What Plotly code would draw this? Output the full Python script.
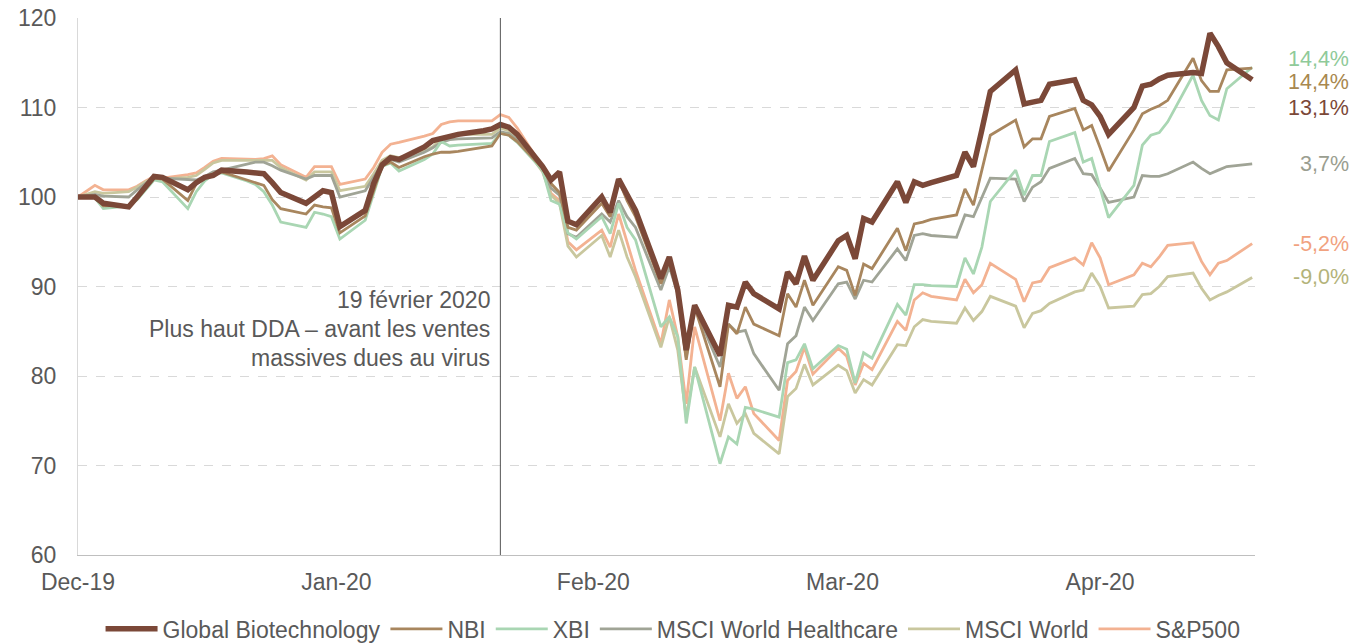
import pandas as pd
import plotly.graph_objects as go

# Trading days from 31 Dec 2019 to 18 May 2020 (1 Jan is a holiday)
dates = [d for d in pd.bdate_range("2019-12-31", "2020-05-18") if d != pd.Timestamp("2020-01-01")]

global_biotech = [
    100.0, 100.0, 99.3,
    98.9, 100.0, 101.2, 102.3, 102.2,
    100.8, 101.6, 102.2, 102.4, 103.0,
    102.8, 102.7, 102.6, 101.6, 100.5,
    99.3, 100.1, 100.7, 100.5, 96.7,
    98.5, 101.5, 103.6, 104.4, 104.2,
    105.6, 106.3, 106.5, 106.7, 107.0,
    107.4, 107.6, 108.1, 107.8, 107.0,
    103.4, 101.9, 102.8, 97.3, 96.9,
    100.0, 98.3, 102.0, 100.4, 98.5,
    90.9, 93.3, 89.6, 82.9, 87.9,
    82.3, 87.9, 87.7, 90.5, 89.2,
    87.5, 91.6, 90.3, 93.4, 90.7,
    95.1, 95.7, 93.1, 97.6, 97.2,
    101.7, 99.4, 101.7, 101.3, 101.6,
    102.4, 105.0, 103.4, 107.5, 111.8,
    114.2, 110.4, 110.6, 110.8, 112.6,
    113.1, 110.8, 110.3, 109.0, 107.0,
    110.0, 112.4, 112.6, 113.2, 113.6,
    113.9, 113.8, 118.3, 116.8, 115.0,
    113.1,
]
nbi = [
    100.0, 100.0, 99.0,
    99.1, 99.8, 100.9, 102.1, 102.0,
    99.6, 101.5, 102.2, 102.6, 102.8,
    101.9, 101.6, 101.3, 99.7, 98.7,
    98.1, 99.1, 98.9, 98.8, 96.0,
    97.9, 100.7, 103.5, 103.9, 103.3,
    104.5, 104.8, 105.0, 105.0, 105.1,
    105.5, 105.7, 107.1, 106.9, 106.2,
    103.2, 101.5, 100.5, 96.6, 96.3,
    99.3, 97.8, 101.9, 99.6, 97.8,
    90.3, 92.9, 89.2, 81.8, 87.7,
    78.8, 85.8, 84.7, 87.7, 85.8,
    84.5, 89.2, 87.7, 90.7, 87.9,
    92.2, 91.8, 89.0, 92.5, 92.0,
    96.5, 94.0, 97.0, 97.2, 97.5,
    98.0, 100.9, 99.1, 103.0, 106.9,
    108.6, 105.6, 106.5, 106.5, 109.0,
    109.9, 107.5, 108.0, 105.5, 102.9,
    107.5, 109.3, 109.8, 110.2, 110.8,
    115.5, 113.0, 111.8, 111.8, 114.2,
    114.4,
]
xbi = [
    100.0, 99.9, 98.7,
    99.0, 99.7, 100.8, 101.9, 101.7,
    98.7, 100.6, 101.8, 102.5, 102.7,
    101.8, 101.4, 100.6, 99.1, 97.2,
    96.6, 98.3, 98.1, 97.8, 95.3,
    97.4, 100.5, 103.4, 103.8, 102.9,
    104.2, 104.8, 106.2, 105.7, 105.8,
    105.9, 106.0, 107.1, 106.9, 106.1,
    103.0, 99.6, 99.2, 96.0, 95.3,
    97.8, 95.9, 99.3, 96.6, 95.2,
    85.5, 86.6, 84.4, 74.7, 81.0,
    70.2, 73.2, 72.4, 76.5, 76.3,
    75.4, 81.5, 81.8, 83.6, 80.8,
    83.4, 83.0, 79.2, 82.6, 82.0,
    88.0, 86.8, 90.2, 90.2, 90.1,
    90.0, 93.2, 91.4, 94.4, 99.5,
    103.0, 100.2, 102.4, 102.4, 106.2,
    107.2, 103.9, 104.3, 101.0, 97.7,
    101.3, 105.8, 106.9, 107.2, 108.4,
    113.6, 110.8, 109.1, 108.6, 112.1,
    114.5,
]
msci_world_healthcare = [
    100.0, 100.3, 100.1,
    100.0, 100.8, 101.5, 102.2, 102.1,
    101.9, 101.9, 102.3, 102.8, 103.0,
    103.7, 103.9, 103.9, 103.5, 103.0,
    102.0, 102.4, 102.4, 102.4, 100.0,
    100.7, 102.2, 103.7, 104.2, 103.9,
    105.0, 105.5, 106.1, 106.4, 106.5,
    106.6, 106.6, 107.3, 107.1, 106.4,
    103.0, 101.0, 100.2, 95.9, 95.5,
    98.1, 97.2, 99.6, 97.8, 96.6,
    89.6, 92.2, 89.2, 82.1, 87.7,
    81.0, 85.8, 84.9, 85.1, 82.5,
    78.4, 83.6, 84.5, 87.7, 86.2,
    90.3, 90.5, 88.6, 90.7, 90.5,
    94.2, 92.9, 95.7, 95.9, 95.7,
    95.5, 98.0, 97.8, 100.0, 102.1,
    102.0, 99.5, 101.1, 101.7, 103.2,
    104.3, 102.6, 102.5, 101.0, 99.4,
    100.0, 102.4, 102.3, 102.3, 102.6,
    103.9, 103.2, 102.6, 103.0, 103.4,
    103.7,
]
msci_world = [
    100.0, 100.6, 100.4,
    100.6, 101.1, 101.7, 102.1, 102.0,
    102.2, 102.4, 103.1, 103.8, 104.1,
    104.1, 104.1, 104.1, 104.1, 103.3,
    101.9, 102.8, 102.8, 102.8, 100.7,
    101.2, 102.6, 104.1, 104.6, 104.4,
    105.2, 105.6, 106.6, 106.8, 107.0,
    107.0, 107.0, 107.7, 107.4, 106.7,
    102.8, 100.2, 99.3, 94.5, 93.3,
    95.7, 93.3, 96.3, 93.3, 91.1,
    83.2, 86.6, 82.9, 75.4, 81.0,
    73.2, 76.9, 74.7, 75.8, 73.6,
    71.3, 77.7, 78.6, 81.3, 79.0,
    81.2, 80.6, 78.1, 79.6, 79.0,
    83.5, 83.4, 85.5, 86.3, 86.1,
    85.9, 87.6, 86.2, 87.2, 88.9,
    87.8, 85.4, 87.0, 87.3, 88.1,
    89.4, 89.6, 91.5, 90.0, 87.6,
    87.8, 89.1, 89.2, 90.0, 91.1,
    91.5, 89.8, 88.5, 89.0, 89.4,
    91.0,
]
sp500 = [
    100.0, 101.3, 100.8,
    100.8, 101.2, 101.8, 102.3, 102.1,
    102.5, 102.7, 103.3, 104.0, 104.3,
    104.2, 104.2, 104.3, 104.6, 103.6,
    102.2, 103.4, 103.4, 103.4, 101.4,
    102.0, 103.3, 105.0, 105.9, 106.1,
    106.8, 107.1, 108.1, 108.4, 108.5,
    108.5, 108.5, 109.2, 108.9, 107.7,
    103.3, 100.4, 99.6, 95.0, 94.1,
    96.3, 94.4, 98.1, 94.8, 91.8,
    83.6, 88.5, 84.4, 76.9, 85.5,
    75.0, 80.3, 77.5, 78.8, 75.8,
    72.8, 79.5, 80.5, 83.2, 80.2,
    83.1, 82.2, 79.0, 81.4, 80.7,
    86.1, 85.1, 88.5, 89.3, 88.9,
    88.5, 90.8, 89.3, 90.2, 92.6,
    90.8, 88.3, 90.4, 90.6, 92.1,
    93.2, 92.4, 94.9, 93.2, 90.2,
    91.3, 92.6, 92.2, 93.3, 94.6,
    94.9, 92.8, 91.3, 92.6, 92.9,
    94.8,
]

series_names = ["Global Biotechnology", "NBI", "XBI", "MSCI World Healthcare", "MSCI World", "S&P500"]
series_values = [global_biotech, nbi, xbi, msci_world_healthcare, msci_world, sp500]
series_colors = ["#7b4838", "#a8865e", "#a9d6b3", "#a0a496", "#c9c79e", "#f3b292"]
series_widths = [5.5, 2.8, 2.8, 2.8, 2.8, 2.8]

end_labels = ["14,4%", "14,4%", "13,1%", "3,7%", "-5,2%", "-9,0%"]
end_label_colors = ["#8fca99", "#a8884f", "#7b4838", "#9a9e90", "#f1a27f", "#b3b37a"]
end_label_y = [115.45, 112.8, 110.0, 103.65, 94.8, 91.05]

x_tick_vals = ["2019-12-31", "2020-01-30 14:00", "2020-03-01", "2020-03-30 12:00", "2020-04-30"]
x_tick_text = ["Dec-19", "Jan-20", "Feb-20", "Mar-20", "Apr-20"]

event_date = "2020-02-19"
event_text = ["19 février 2020", "Plus haut DDA – avant les ventes", "massives dues au virus"]
event_text_y = [88.5, 85.25, 82.0]

TXT = "#595959"
FONT = "Liberation Sans, Arial, sans-serif"
FS = 23

fig = go.Figure()
for name, vals, col, w in reversed(list(zip(series_names, series_values, series_colors, series_widths))):
    fig.add_trace(go.Scatter(x=dates, y=vals, name=name, mode="lines",
                             line=dict(color=col, width=w)))

fig.add_shape(type="line", xref="x", yref="paper", x0=event_date, x1=event_date, y0=0, y1=1,
              line=dict(color="#555555", width=1))

for t, y in zip(event_text, event_text_y):
    fig.add_annotation(xref="x", yref="y", x=event_date, y=y, text=t,
                       xanchor="right", yanchor="middle", xshift=-8, showarrow=False,
                       font=dict(size=FS, color=TXT, family=FONT))

for t, c, y in zip(end_labels, end_label_colors, end_label_y):
    fig.add_annotation(xref="paper", yref="y", x=1.0815, y=y, text=t, xanchor="right",
                       yanchor="middle", showarrow=False, font=dict(size=21.5, color=c, family=FONT))

fig.update_layout(
    width=1368, height=643,
    margin=dict(l=78, r=113, t=18, b=88, autoexpand=False),
    paper_bgcolor="white", plot_bgcolor="white",
    font=dict(family=FONT, size=FS, color=TXT),
    showlegend=True,
    legend=dict(orientation="h", xref="container", yref="container", x=0.492, xanchor="center",
                y=0.022, yanchor="middle", traceorder="reversed",
                font=dict(size=FS, color=TXT), itemwidth=52),
)
fig.update_xaxes(type="date", range=["2019-12-31", "2020-05-18 08:00"],
                 tickvals=x_tick_vals, ticktext=x_tick_text, showgrid=False,
                 showline=True, linecolor="#bfbfbf", linewidth=1, ticks="",
                 ticklabelstandoff=6, automargin=False,
                 tickfont=dict(size=FS, color=TXT), zeroline=False)
fig.update_yaxes(range=[60, 120], dtick=10, tick0=60, showgrid=True, gridcolor="#d9d9d9",
                 griddash="dash", gridwidth=1, showline=True, linecolor="#d9d9d9",
                 zeroline=False, ticks="", ticklabelstandoff=16, automargin=False,
                 tickfont=dict(size=FS, color=TXT))

fig.write_html("out.html", config={"displayModeBar": False},
               post_script="document.body.style.margin='0';")
